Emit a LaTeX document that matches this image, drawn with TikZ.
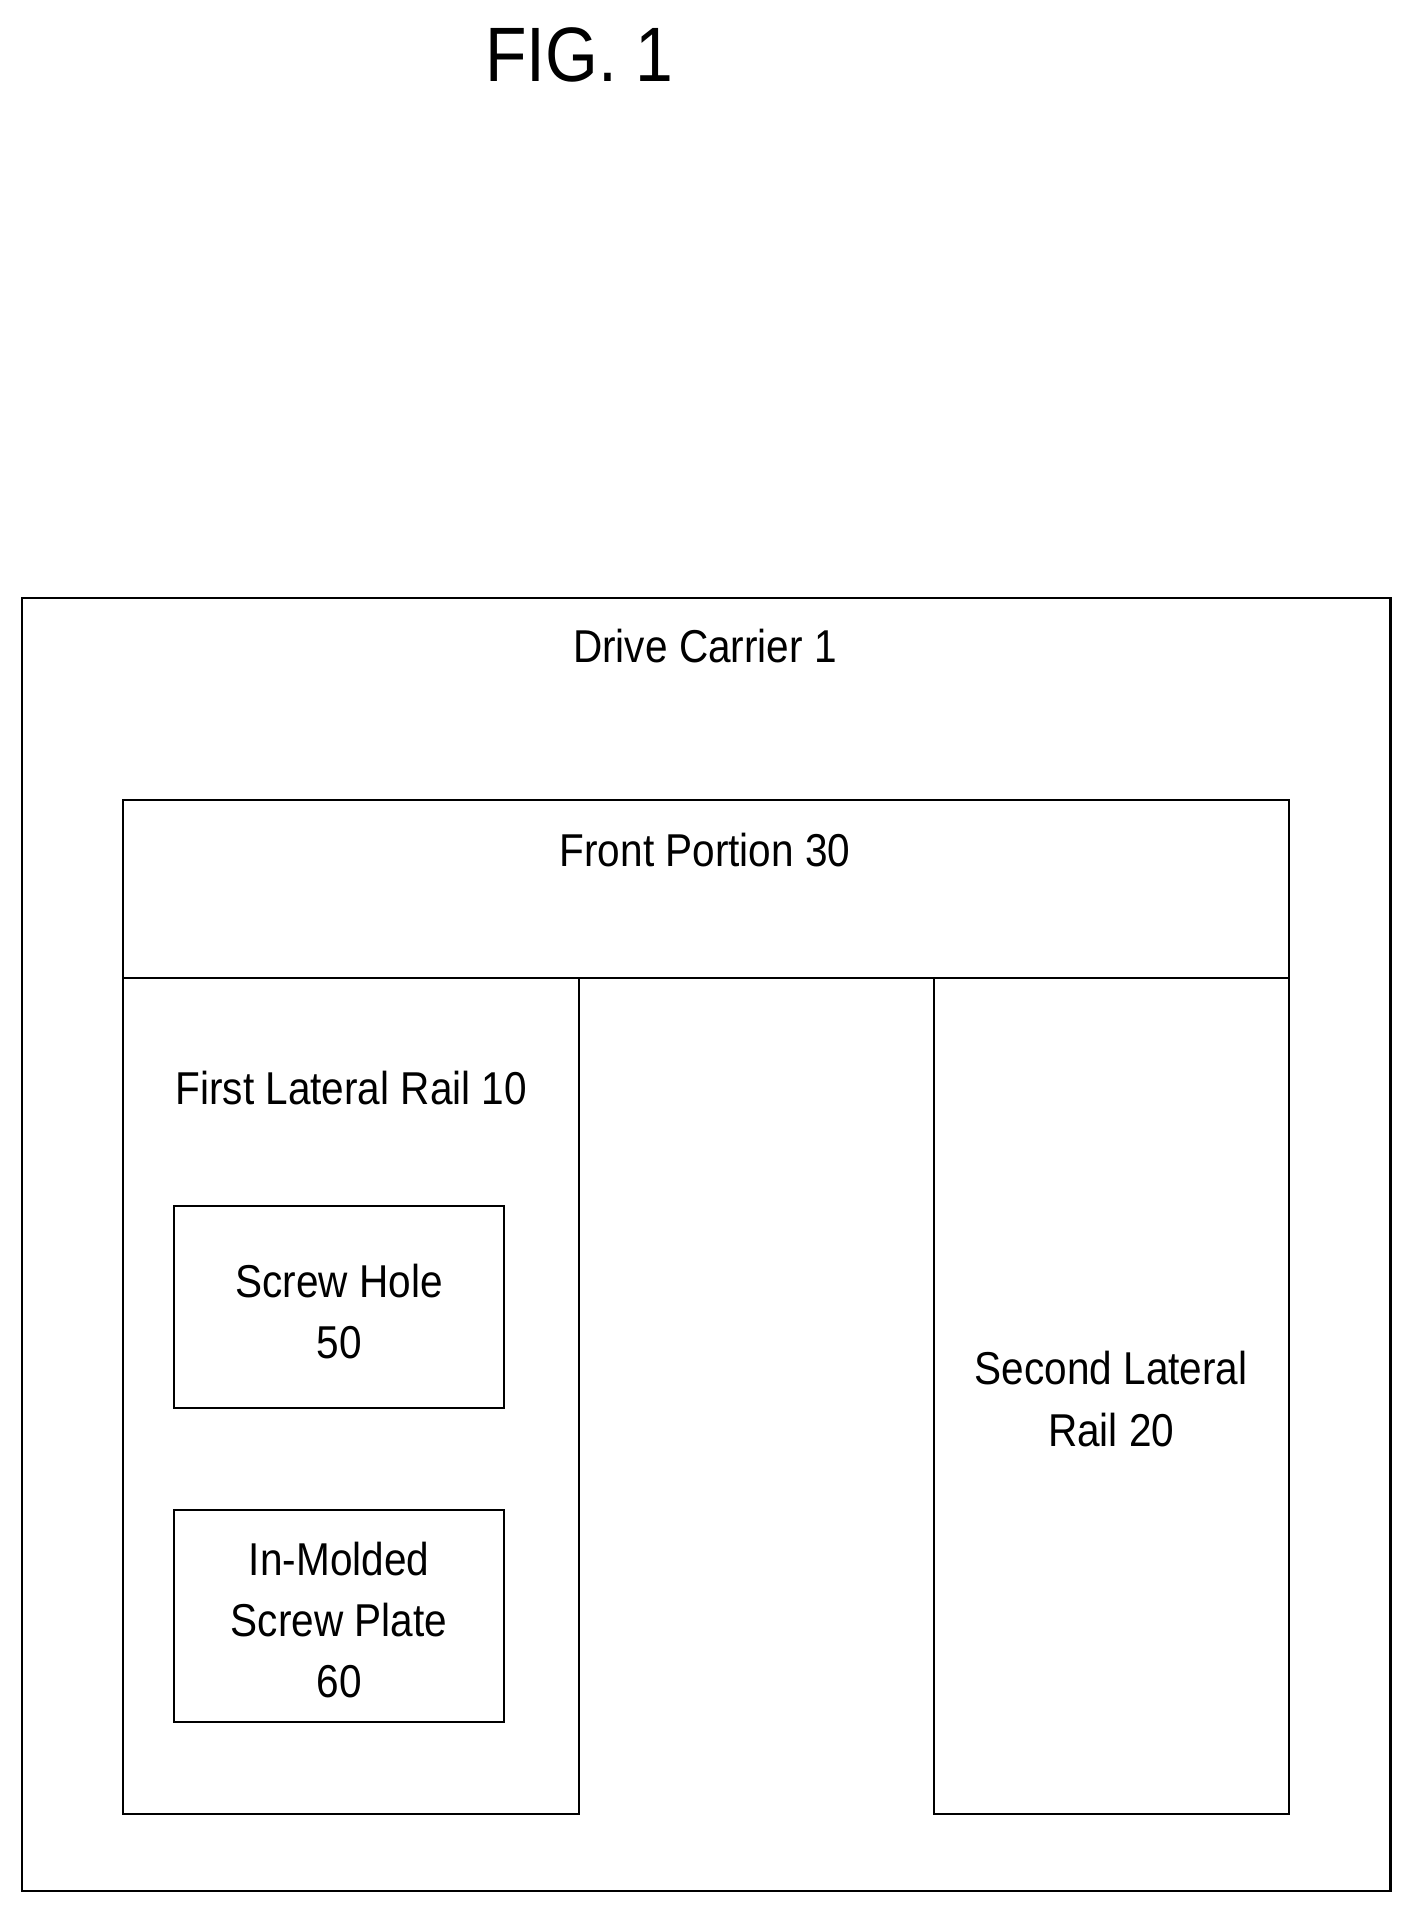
\documentclass[tikz,border=0pt]{standalone}
\usepackage{fontspec}
\setmainfont{Liberation Sans}
\begin{document}
\begin{tikzpicture}[x=0.02cm,y=-0.02cm,
  box/.style={draw,line width=1pt},
  lbl/.style={font=\fontsize{21.5}{28.5}\selectfont,align=center,xscale=0.88}]
\useasboundingbox (0,0) rectangle (1160,1570);
\node[font=\fontsize{36}{44}\selectfont,xscale=0.88] (fig) at (475,45) {FIG. 1};
\draw[box] (18,490) rectangle (1140,1550);
\draw[box] (101,656) rectangle (1057,802);
\draw[box] (101,802) rectangle (475,1487);
\draw[box] (766,802) rectangle (1057,1487);
\draw[box] (143,989) rectangle (413,1154);
\draw[box] (143,1238) rectangle (413,1412);
\node[lbl] (carrier) at (578,530) {Drive Carrier 1};
\node[lbl] (front) at (578,697) {Front Portion 30};
\node[lbl] (rail1) at (288,892) {First Lateral Rail 10};
\node[lbl] (hole) at (278,1075) {Screw Hole\\50};
\node[lbl] (plate) at (278,1328) {In-Molded\\Screw Plate\\60};
\node[lbl] (rail2) at (911,1147) {Second Lateral\\Rail 20};
\end{tikzpicture}
\end{document}
